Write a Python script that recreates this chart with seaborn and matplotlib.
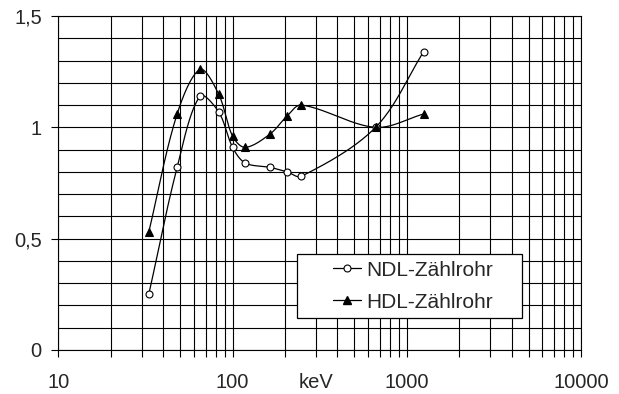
import numpy as np
import matplotlib
matplotlib.use("Agg")
import matplotlib.pyplot as plt
import matplotlib.ticker as mticker
from matplotlib.lines import Line2D
from matplotlib.legend_handler import HandlerLine2D
import seaborn as sns

# --- data (relative response vs. photon energy) ---
energy_kev = [33, 48, 65, 83, 100, 118, 164, 205, 248, 662, 1250]
ndl_response = [0.25, 0.82, 1.14, 1.07, 0.91, 0.84, 0.82, 0.80, 0.78, 1.00, 1.34]
hdl_response = [0.53, 1.06, 1.26, 1.15, 0.96, 0.91, 0.97, 1.05, 1.10, 1.00, 1.06]

x_ticks = [10, 100, 1000, 10000]
x_ticklabels = ["10", "100", "1000", "10000"]
y_ticks = [0, 0.5, 1, 1.5]
y_ticklabels = ["0", "0,5", "1", "1,5"]

sns.set_theme(style="white")
plt.rcParams["font.family"] = ["Liberation Sans", "DejaVu Sans"]
FS = 14.5
LEG_FS = 15

# pixel scale of the plot area (per decade / per unit) used for smoothing
SX, SY = 174.2, 223.0


def smooth_curve(xs, ys, n=40):
    # smoothed line: cubic Bezier through the points, tangents scaled by chord length
    p = np.column_stack([np.log10(xs) * SX, np.asarray(ys) * SY])
    segs = []
    t = np.linspace(0, 1, n)[:, None]
    for i in range(len(p) - 1):
        p0 = p[max(i - 1, 0)]
        p1, p2 = p[i], p[i + 1]
        p3 = p[min(i + 2, len(p) - 1)]
        d01 = np.linalg.norm(p1 - p0)
        d12 = np.linalg.norm(p2 - p1)
        d23 = np.linalg.norm(p3 - p2)
        c1 = p1 + (p2 - p0) * d12 / (3 * (d01 + d12))
        c2 = p2 - (p3 - p1) * d12 / (3 * (d12 + d23))
        segs.append((1 - t) ** 3 * p1 + 3 * (1 - t) ** 2 * t * c1
                    + 3 * (1 - t) * t ** 2 * c2 + t ** 3 * p2)
    c = np.vstack(segs)
    return 10 ** (c[:, 0] / SX), c[:, 1] / SY


fig = plt.figure(figsize=(6.19, 3.94), dpi=100)
ax = fig.add_axes([0.0945, 0.1117, 0.844, 0.8477])
ax.set_xscale("log")
ax.set_xlim(10, 10000)
ax.set_ylim(0, 1.5)

# grid
ax.xaxis.set_major_locator(mticker.FixedLocator(x_ticks))
ax.xaxis.set_minor_locator(mticker.LogLocator(base=10, subs=np.arange(2, 10), numticks=20))
ax.xaxis.set_minor_formatter(mticker.NullFormatter())
ax.set_xticklabels(x_ticklabels)
ax.yaxis.set_major_locator(mticker.FixedLocator(y_ticks))
ax.yaxis.set_minor_locator(mticker.MultipleLocator(0.1))
ax.set_yticklabels(y_ticklabels)
ax.grid(True, which="both", axis="both", color="black", linewidth=0.8)
ax.set_axisbelow(True)

ax.tick_params(axis="x", which="both", direction="out", length=5, width=0.8,
               color="black", bottom=True, pad=11.5, labelsize=FS)
ax.tick_params(axis="y", which="major", direction="out", length=5, width=0.8,
               color="black", left=True, pad=7, labelsize=FS)
ax.tick_params(axis="y", which="minor", left=False)
for s in ax.spines.values():
    s.set_color("black")
    s.set_linewidth(0.8)

# curves
for resp, mk, fc, ms in [(ndl_response, "o", "white", 5),
                         (hdl_response, "^", "black", 6)]:
    cx, cy = smooth_curve(energy_kev, resp)
    sns.lineplot(x=cx, y=cy, ax=ax, sort=False, estimator=None,
                 color="black", linewidth=0.9, zorder=3)
    ax.plot(energy_kev, resp, linestyle="none", marker=mk, markersize=ms,
            markerfacecolor=fc, markeredgecolor="black", markeredgewidth=0.8,
            zorder=4)

ax.set_xlabel("keV", fontsize=FS)
ax.xaxis.set_label_coords(0.493, -0.07)
ax.set_ylabel("")

handles = [
    Line2D([], [], color="black", linewidth=0.9, marker="o", markersize=5,
           markerfacecolor="white", markeredgecolor="black", markeredgewidth=0.8),
    Line2D([], [], color="black", linewidth=0.9, marker="^", markersize=6,
           markerfacecolor="black", markeredgecolor="black"),
]
h = HandlerLine2D(numpoints=1, xpad=1.43)
leg = ax.legend(handles, ["NDL-Zählrohr", "HDL-Zählrohr"], loc="lower left",
                bbox_to_anchor=(0.4565, 0.0958, 0.4306, 0.2), mode="expand",
                borderaxespad=0, fontsize=LEG_FS,
                handlelength=2.78, handletextpad=0.24, borderpad=0.3,
                labelspacing=0.63, fancybox=False, framealpha=1,
                edgecolor="black", handler_map={h_: h for h_ in handles})
leg.get_frame().set_linewidth(0.9)
leg.set_zorder(5)

fig.savefig("out.png", dpi=100, facecolor="white")
